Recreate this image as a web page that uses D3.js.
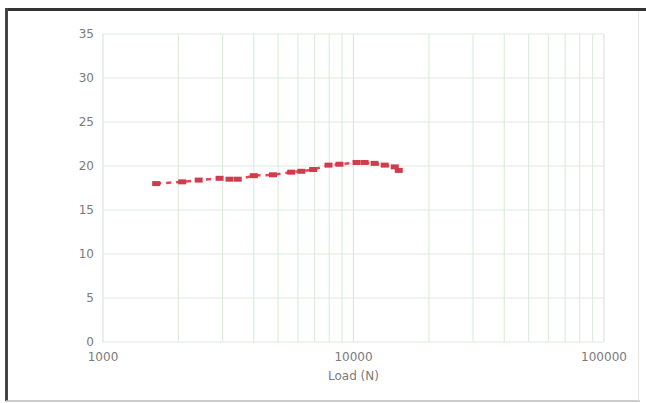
<!DOCTYPE html>
<html>
<head>
<meta charset="utf-8">
<script src="https://cdn.jsdelivr.net/npm/d3@7"></script>
<style>
  body { margin: 0; background: #fff; }
  text { font-family: "DejaVu Sans", sans-serif; }
</style>
</head>
<body>
<script>
// load (N) vs value
const loads  = [1630, 2070, 2410, 2920, 3200, 3450, 4000, 4770, 5640, 6190, 6900, 7950, 8790, 10280, 11070, 12140, 13320, 14610, 15160];
const values = [18.0, 18.2, 18.4, 18.6, 18.5, 18.5, 18.9, 19.0, 19.3, 19.4, 19.6, 20.1, 20.2, 20.4, 20.4, 20.3, 20.1, 19.9, 19.5];
const yTicks = [0, 5, 10, 15, 20, 25, 30, 35];
const xLabels = [1000, 10000, 100000];
const xTitle = "Load (N)";

const W = 646, H = 403;
const margin = {top: 34, right: 42, bottom: 61, left: 103};
const width = W - margin.left - margin.right,
      height = H - margin.top - margin.bottom;

const root = d3.select("body").append("svg")
    .attr("width", W).attr("height", H);

// frame: dark top/left, light right/bottom
root.append("line").attr("x1", 6).attr("x2", 646).attr("y1", 9.5).attr("y2", 9.5)
    .attr("stroke", "#333").attr("stroke-width", 3);
root.append("line").attr("x1", 6.5).attr("x2", 6.5).attr("y1", 8).attr("y2", 401)
    .attr("stroke", "#444").attr("stroke-width", 3);
root.append("line").attr("x1", 6).attr("x2", 640).attr("y1", 401).attr("y2", 401)
    .attr("stroke", "#bbb").attr("stroke-width", 1.5);
root.append("line").attr("x1", 638.5).attr("x2", 638.5).attr("y1", 11).attr("y2", 401)
    .attr("stroke", "#e4e4e4").attr("stroke-width", 1);

const svg = root.append("g")
    .attr("transform", `translate(${margin.left},${margin.top})`);

const x = d3.scaleLog().domain([1000, 100000]).range([0, width]);
const y = d3.scaleLinear().domain([0, 35]).range([height, 0]);

// grid
const minor = x.ticks();
svg.append("g").selectAll("line")
    .data(minor)
    .enter().append("line")
    .attr("x1", d => x(d)).attr("x2", d => x(d))
    .attr("y1", 0).attr("y2", height)
    .attr("stroke", d => xLabels.includes(d) ? "#dde2df" : "#dcedde")
    .attr("stroke-width", 1.2);
svg.append("g").selectAll("line")
    .data(yTicks)
    .enter().append("line")
    .attr("x1", 0).attr("x2", width)
    .attr("y1", d => y(d)).attr("y2", d => y(d))
    .attr("stroke", "#e0e9e4")
    .attr("stroke-width", 1.2);

// y labels
svg.append("g").selectAll("text")
    .data(yTicks)
    .enter().append("text")
    .attr("x", -9).attr("y", d => y(d) + 4)
    .attr("text-anchor", "end")
    .attr("font-size", 12).attr("fill", "#7a7a7a")
    .text(d => d);

// x labels
svg.append("g").selectAll("text")
    .data(xLabels)
    .enter().append("text")
    .attr("x", d => x(d)).attr("y", height + 19)
    .attr("text-anchor", "middle")
    .attr("font-size", 12).attr("fill", "#7a7a7a")
    .text(d => d);

svg.append("text")
    .attr("x", x(10000)).attr("y", height + 38)
    .attr("text-anchor", "middle")
    .attr("font-size", 12).attr("fill", "#7a7a7a")
    .text(xTitle);

// series
const pts = loads.map((l, i) => ({x: l, y: values[i]}));
const line = d3.line().x(d => x(d.x)).y(d => y(d.y));

svg.append("path")
    .datum(pts)
    .attr("fill", "none")
    .attr("stroke", "#ec4252")
    .attr("stroke-width", 2.5)
    .attr("stroke-dasharray", "5,5")
    .attr("d", line);

svg.append("g").selectAll("rect")
    .data(pts)
    .enter().append("rect")
    .attr("x", d => x(d.x) - 4).attr("y", d => y(d.y) - 2.5)
    .attr("width", 8).attr("height", 5)
    .attr("fill", "#d03c4c");
</script>
</body>
</html>
